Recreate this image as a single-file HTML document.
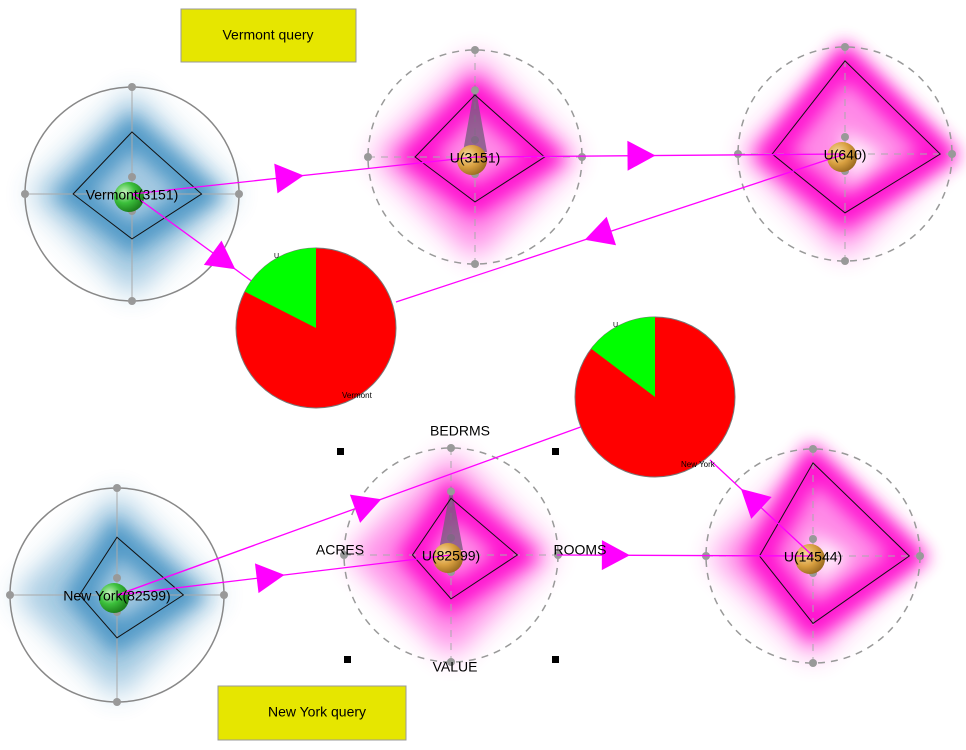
<!DOCTYPE html>
<html><head><meta charset="utf-8"><style>
html,body{margin:0;padding:0;background:#fff}
svg{display:block;font-family:"Liberation Sans",sans-serif}
</style></head><body>
<svg id="c" width="966" height="750" viewBox="0 0 966 750">
<defs>
<filter id="blur" x="-50%" y="-50%" width="200%" height="200%"><feGaussianBlur stdDeviation="9"/></filter>
<filter id="blur2" x="-50%" y="-50%" width="200%" height="200%"><feGaussianBlur stdDeviation="14"/></filter>
<radialGradient id="gs" cx="35%" cy="35%" r="70%"><stop offset="0" stop-color="#c8f5c0"/><stop offset="0.5" stop-color="#3cc03c"/><stop offset="1" stop-color="#1a7a1a"/></radialGradient>
<radialGradient id="os" cx="35%" cy="35%" r="70%"><stop offset="0" stop-color="#f8dca0"/><stop offset="0.55" stop-color="#d9a040"/><stop offset="1" stop-color="#9a6a20"/></radialGradient>
</defs>
<rect x="181" y="9" width="175" height="53" fill="#e6e600" stroke="#999"/>
<text x="268" y="36" font-size="14" text-anchor="middle" dominant-baseline="middle">Vermont query</text>
<rect x="218" y="686" width="188" height="54" fill="#e6e600" stroke="#999"/>
<text x="317" y="713" font-size="14" text-anchor="middle" dominant-baseline="middle">New York query</text>
<g id="glyphs"></g>
<g id="links"></g>
<g id="pies"></g>
<g id="labels"></g>
</svg>
<script>
const NS='http://www.w3.org/2000/svg';
const R=107;
const glyphNames=['Vermont(3151)','U(3151)','U(640)','New York(82599)','U(82599)','U(14544)'];
const glyphKinds=['blue','pink','pink','blue','pink','pink'];
const glyphCx=[132,475,845,117,451,813];
const glyphCy=[194,157,154,595,555,556];
const dTop=[0.58,0.58,0.87,0.54,0.53,0.87];
const dRight=[0.65,0.65,0.89,0.62,0.62,0.9];
const dBottom=[0.42,0.42,0.55,0.40,0.41,0.63];
const dLeft=[0.55,0.56,0.68,0.35,0.36,0.5];
const spike=[0,0.68,0,0,0.65,0];
const pieNames=['Vermont','New York'];
const pieGreen=[0.175,0.147];
const pieCx=[316,655];
const pieCy=[328,397];
const PR=80;
function el(t,a,p){const e=document.createElementNS(NS,t);for(const k in a)e.setAttribute(k,a[k]);(p||document.getElementById('c')).appendChild(e);return e;}
const G=document.getElementById('glyphs');
for(let i=0;i<glyphNames.length;i++){
  const cx=glyphCx[i],cy=glyphCy[i],blue=glyphKinds[i]==='blue';
  const col=blue?'#3a8cc0':'#ff00cc';
  const g=el('g',{},G);
  
  
  const T=[cx,cy-dTop[i]*R],Rr=[cx+dRight[i]*R,cy],B=[cx,cy+dBottom[i]*R],L=[cx-dLeft[i]*R,cy];
  const dia=[T,Rr,B,L].map(p=>p.join(',')).join(' ');
  const outer=[[cx,cy-R+4],[cx+R-4,cy],[cx,cy+R-4],[cx-R+4,cy]].map(p=>p.join(',')).join(' ');
  el('polygon',{points:outer,fill:col,opacity:blue?0.45:0.45,filter:'url(#blur2)'},g);
  el('polygon',{points:dia,fill:'none',stroke:col,'stroke-width':26,opacity:blue?0.8:0.9,filter:'url(#blur)'},g);
  if(!blue&&dTop[i]>0.8) el('polygon',{points:[[cx-4,cy-25],[cx+40,cy],[cx+4,cy+30]].map(p=>p.join(',')).join(' '),fill:'#fff',opacity:0.9,filter:'url(#blur)'},g);
  const ci=el('circle',{cx:cx,cy:cy,r:R,fill:'none',stroke:blue?'#888':'#999','stroke-width':1.5,'stroke-dasharray':blue?'none':'7,6'},g);
  
  
  el('line',{x1:cx-R,y1:cy,x2:cx+R,y2:cy,stroke:'#aaa','stroke-dasharray':blue?'none':'7,6'},g);
  el('line',{x1:cx,y1:cy-R,x2:cx,y2:cy+R,stroke:'#aaa','stroke-dasharray':blue?'none':'7,6'},g);
  [[cx-R,cy],[cx+R,cy],[cx,cy-R],[cx,cy+R],[cx,cy-17],[cx,cy+17]].forEach(p=>el('circle',{cx:p[0],cy:p[1],r:4,fill:'#999'},g));
  if(spike[i]>0){
    el('polygon',{points:[[cx,cy-spike[i]*R],[cx+12,cy-5],[cx-12,cy-5]].map(p=>p.join(',')).join(' '),fill:'#7a5a80',opacity:0.8},g);
    el('circle',{cx:cx,cy:cy-spike[i]*R+6,r:4,fill:'#999'},g);
  }
  const d=el('polygon',{points:dia,fill:'none',stroke:'#111','stroke-width':1},g);
  
  
  el('circle',{cx:cx-3,cy:cy+3,r:15,fill:blue?'url(#gs)':'url(#os)'},g);
}
const Lk=document.getElementById('links');
function link(x1,y1,x2,y2,t,name){
  const g=el('g',{},Lk);
  
  
  el('line',{x1:x1,y1:y1,x2:x2,y2:y2,stroke:'#ff00ff','stroke-width':1.3},g);
  const ax=x1+(x2-x1)*t,ay=y1+(y2-y1)*t,a=Math.atan2(y2-y1,x2-x1);
  const s=28,w=15;
  const tip=[ax+Math.cos(a)*s/2,ay+Math.sin(a)*s/2];
  const b1=[ax-Math.cos(a)*s/2-Math.sin(a)*w,ay-Math.sin(a)*s/2+Math.cos(a)*w];
  const b2=[ax-Math.cos(a)*s/2+Math.sin(a)*w,ay-Math.sin(a)*s/2-Math.cos(a)*w];
  el('polygon',{points:[tip,b1,b2].map(p=>p.join(',')).join(' '),fill:'#ff00ff'},g);
}
link(132,194,475,157,0.46,'link-vermont-u3151');
link(132,194,316,328,0.5,'link-vermont-pie');
link(475,157,845,154,0.45,'link-u3151-u640');
link(845,154,396,302,0.55,'link-u640-pie');
link(117,595,451,555,0.46,'link-ny-u82599');
link(117,595,600,420,0.52,'link-ny-pie');
link(557,555,813,556,0.23,'link-u82599-u14544');
link(813,556,710,460,0.6,'link-u14544-pie');
const P=document.getElementById('pies');
for(let i=0;i<pieNames.length;i++){
  const cx=pieCx[i],cy=pieCy[i],f=pieGreen[i];
  const g=el('g',{},P);
  
  
  const r1=el('circle',{cx:cx,cy:cy,r:PR,fill:'#ff0000',stroke:'#777','stroke-width':1},g);
  
  
  const a=-Math.PI/2-f*2*Math.PI;
  const ex=cx+PR*Math.cos(a),ey=cy+PR*Math.sin(a);
  const w=el('path',{d:`M${cx},${cy} L${cx},${cy-PR} A${PR},${PR} 0 0 0 ${ex},${ey} Z`,fill:'#00ff00'},g);
  
  
  const t1=el('text',{x:cx-42,y:cy-70,'font-size':7},g);t1.textContent='U';
  
  
  const t2=el('text',{x:cx+26,y:cy+70,'font-size':8},g);t2.textContent=pieNames[i];
  
  
}
const Lb=document.getElementById('labels');
for(let i=0;i<glyphNames.length;i++){
  const t=el('text',{x:glyphCx[i],y:glyphCy[i]+2,'font-size':14,'text-anchor':'middle','dominant-baseline':'middle',fill:'#000'},Lb);
  t.textContent=glyphNames[i];
  
  
}
const axisNames=['BEDRMS','ACRES','ROOMS','VALUE'];
const ax=[[460,432],[340,551],[580,551],[455,668]];
for(let i=0;i<4;i++){
  const t=el('text',{x:ax[i][0],y:ax[i][1],'font-size':14,'text-anchor':'middle','dominant-baseline':'middle'},Lb);
  t.textContent=axisNames[i];
  
  
}
[[340,451],[555,451],[347,659],[555,659]].forEach(p=>{
  const r=el('rect',{x:p[0]-3,y:p[1]-3,width:7,height:7,fill:'#000'},Lb);
  
  
});
</script>
</body></html>
